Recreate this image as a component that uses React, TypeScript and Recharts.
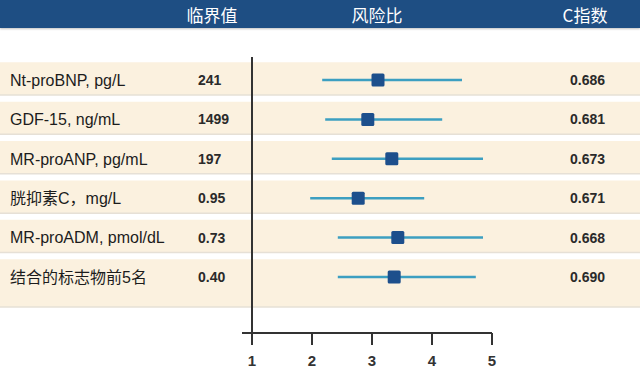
import React from 'react';
import {
  ScatterChart,
  Scatter,
  XAxis,
  YAxis,
  ErrorBar,
  ReferenceArea,
  ReferenceLine,
} from 'recharts';

// ---- data ----
const rowLabels = [
  'Nt-proBNP, pg/L',
  'GDF-15, ng/mL',
  'MR-proANP, pg/mL',
  '胱抑素C，mg/L',
  'MR-proADM, pmol/dL',
  '结合的标志物前5名',
];
const cutoffs = ['241', '1499', '197', '0.95', '0.73', '0.40'];
const hazardRatio = [3.1, 2.93, 3.33, 2.77, 3.43, 3.37];
const ciLow = [2.17, 2.22, 2.33, 1.97, 2.43, 2.43];
const ciHigh = [4.5, 4.17, 4.85, 3.87, 4.85, 4.73];
const cIndex = ['0.686', '0.681', '0.673', '0.671', '0.668', '0.690'];
const xTicks = [1, 2, 3, 4, 5];
const headers = ['临界值', '风险比', 'C指数'];

const data = rowLabels.map((name, i) => ({
  name,
  row: i + 1,
  hr: hazardRatio[i],
  err: [hazardRatio[i] - ciLow[i], ciHigh[i] - hazardRatio[i]],
}));

// ---- layout ----
const W = 640;
const H = 382;
const PLOT_LEFT = 242;
const PLOT_RIGHT = 492;
const PLOT_TOP = 57;
const PLOT_BOTTOM = 333;
const ROW1_Y = 80;
const ROW_STEP = 39.4;
const X_MAX = 5;
const PX_PER_UNIT = 60;
const X_MIN = 1 - (252 - PLOT_LEFT) / PX_PER_UNIT;
const Y_MIN = 1 - (ROW1_Y - PLOT_TOP) / ROW_STEP;
const Y_MAX = 1 + (PLOT_BOTTOM - ROW1_Y) / ROW_STEP;
const X_LEFT_EDGE = 1 - 252 / PX_PER_UNIT;
const X_RIGHT_EDGE = 1 + (W - 252) / PX_PER_UNIT;
const BAND_UP = 0.45;
const BAND_DOWN = 0.38;
const LAST_BAND_DOWN = 0.76;

const FONT = "'Liberation Sans', Arial, 'Noto Sans CJK SC', sans-serif";
const HEADER_BG = '#1e4e83';
const BAND = '#fbf1df';
const BAND_EDGE = '#e6e0d6';
const SQUARE = '#1d4f8c';
const CI_LINE = '#3c9fc1';
const AXIS = '#333333';

function RowTick(props: any) {
  const { y, payload } = props;
  const i = Math.round(payload.value) - 1;
  if (i < 0 || i >= rowLabels.length) return null;
  return (
    <g>
      <text x={10} y={y} dy="0.36em" fontSize={16} fill="#1c1c1c" fontFamily={FONT}>
        {rowLabels[i]}
      </text>
      <text x={198} y={y} dy="0.36em" fontSize={14} fontWeight="bold" fill="#2a2a2a" fontFamily={FONT}>
        {cutoffs[i]}
      </text>
      <text x={570} y={y} dy="0.36em" fontSize={14} fontWeight="bold" fill="#2a2a2a" fontFamily={FONT}>
        {cIndex[i]}
      </text>
    </g>
  );
}

function SquareShape(props: any) {
  const { cx, cy } = props;
  const s = 13;
  return <rect x={cx - s / 2} y={cy - s / 2} width={s} height={s} rx={1.5} fill={SQUARE} />;
}

const headerCenters = [212, 377, 585];

export default function App() {
  return (
    <div style={{ position: 'absolute', left: 0, top: 0, width: W, height: H, background: '#ffffff' }}>
      <ScatterChart
        width={W}
        height={H}
        margin={{ top: PLOT_TOP, right: W - PLOT_RIGHT, bottom: H - PLOT_BOTTOM - 30, left: 0 }}
      >
        {data.map((d, i) => (
          <ReferenceArea
            key={'band' + i}
            x1={X_LEFT_EDGE}
            x2={X_RIGHT_EDGE}
            y1={d.row - BAND_UP}
            y2={d.row + (i === data.length - 1 ? LAST_BAND_DOWN : BAND_DOWN)}
            fill={BAND}
            fillOpacity={1}
            stroke="none"
            ifOverflow="visible"
          />
        ))}
        {data.map((d, i) => (
          <ReferenceLine
            key={'edge' + i}
            segment={[
              { x: X_LEFT_EDGE, y: d.row + (i === data.length - 1 ? LAST_BAND_DOWN : BAND_DOWN) },
              { x: X_RIGHT_EDGE, y: d.row + (i === data.length - 1 ? LAST_BAND_DOWN : BAND_DOWN) },
            ]}
            stroke={BAND_EDGE}
            strokeWidth={1.5}
            ifOverflow="visible"
          />
        ))}
        <XAxis
          type="number"
          dataKey="hr"
          domain={[X_MIN, X_MAX]}
          ticks={xTicks}
          allowDataOverflow
          height={30}
          tickSize={12}
          tickMargin={10}
          axisLine={{ stroke: AXIS, strokeWidth: 2 }}
          tickLine={{ stroke: AXIS, strokeWidth: 2 }}
          tick={{ fontSize: 15, fontWeight: 'bold', fill: '#333', fontFamily: FONT }}
        />
        <YAxis
          type="number"
          dataKey="row"
          domain={[Y_MIN, Y_MAX]}
          allowDataOverflow
          reversed
          ticks={[1, 2, 3, 4, 5, 6]}
          width={PLOT_LEFT}
          axisLine={false}
          tickLine={false}
          tick={<RowTick />}
        />
        <ReferenceLine x={1} stroke={AXIS} strokeWidth={2} />
        <Scatter data={data} shape={<SquareShape />} isAnimationActive={false}>
          <ErrorBar
            dataKey="err"
            direction="x"
            width={0}
            stroke={CI_LINE}
            strokeWidth={2.5}
            isAnimationActive={false}
          />
        </Scatter>
      </ScatterChart>
      <div
        style={{
          position: 'absolute',
          left: 0,
          top: 0,
          width: W,
          height: 28,
          background: HEADER_BG,
          boxShadow: '0 1px 2px rgba(0,0,0,0.25)',
        }}
      >
        {headers.map((h, i) => (
          <span
            key={h}
            style={{
              position: 'absolute',
              left: headerCenters[i] - 50,
              width: 100,
              top: 0,
              lineHeight: '30px',
              textAlign: 'center',
              color: '#ffffff',
              fontSize: 17,
              fontFamily: "'Noto Sans CJK SC', 'Liberation Sans', sans-serif",
            }}
          >
            {h}
          </span>
        ))}
      </div>
    </div>
  );
}
